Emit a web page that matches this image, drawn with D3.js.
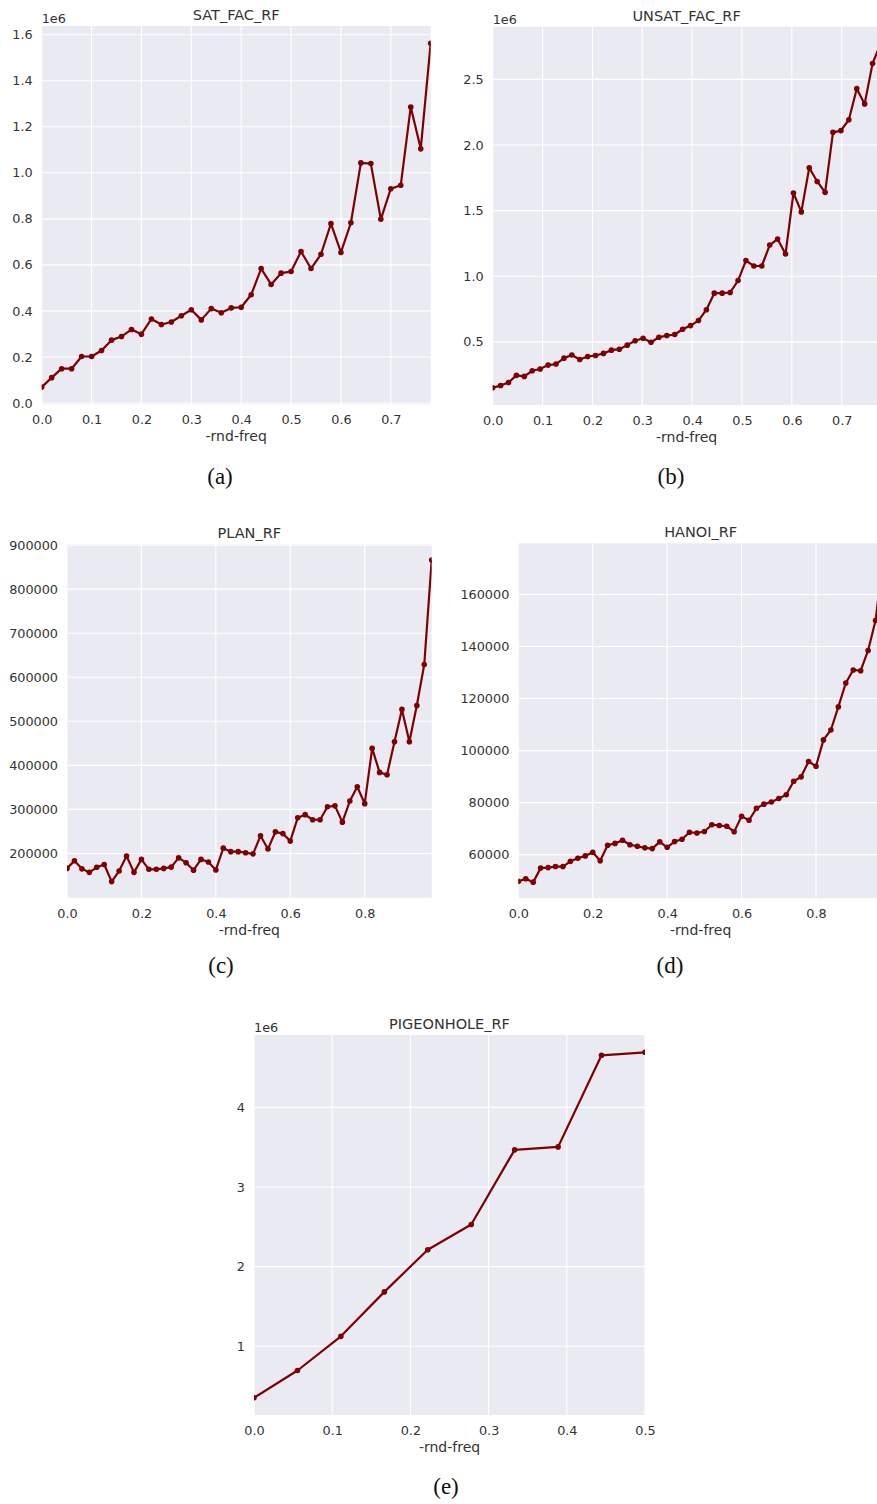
<!DOCTYPE html>
<html>
<head>
<meta charset="utf-8">
<script src="https://cdn.jsdelivr.net/npm/d3@7"></script>
<style>
  body { margin: 0; background: #fff; }
  text { font-family: "DejaVu Sans", sans-serif; fill: #333; }
  .cap { font-family: "Liberation Serif", "DejaVu Serif", serif; fill: #111; }
</style>
</head>
<body>
<div id="chart"></div>
<script>
// values, y in raw units (1e6 panels kept in millions)
const satX = [0, 0.02, 0.04, 0.06, 0.08, 0.1, 0.12, 0.14, 0.16, 0.18, 0.2, 0.22, 0.24, 0.26, 0.28, 0.3, 0.32, 0.34, 0.36, 0.38,
  0.4, 0.42, 0.44, 0.46, 0.48, 0.5, 0.52, 0.54, 0.56, 0.58, 0.6, 0.62, 0.64, 0.66, 0.68, 0.7, 0.72, 0.74, 0.76, 0.78];
const satY = [0.069, 0.11, 0.149, 0.149, 0.202, 0.202, 0.228, 0.273, 0.289, 0.319, 0.299, 0.365, 0.341, 0.352, 0.379, 0.405, 0.361, 0.41, 0.392, 0.413,
  0.416, 0.47, 0.584, 0.515, 0.564, 0.571, 0.658, 0.584, 0.646, 0.779, 0.654, 0.783, 1.043, 1.04, 0.798, 0.931, 0.946, 1.286, 1.104, 1.563];

const unsatX = [0, 0.0159, 0.0317, 0.0476, 0.0635, 0.0794, 0.0952, 0.1111, 0.127, 0.1429, 0.1587, 0.1746, 0.1905, 0.2063, 0.2222, 0.2381, 0.254,
  0.2698, 0.2857, 0.3016, 0.3175, 0.3333, 0.3492, 0.3651, 0.381, 0.3968, 0.4127, 0.4286, 0.4444, 0.4603, 0.4762, 0.4921, 0.5079, 0.5238,
  0.5397, 0.5556, 0.5714, 0.5873, 0.6032, 0.619, 0.6349, 0.6508, 0.6667, 0.6825, 0.6984, 0.7143, 0.7302, 0.746, 0.7619, 0.7778];
const unsatY = [0.15, 0.167, 0.19, 0.245, 0.237, 0.28, 0.293, 0.323, 0.331, 0.376, 0.4, 0.366, 0.389, 0.396, 0.412, 0.437, 0.444,
  0.475, 0.508, 0.528, 0.497, 0.535, 0.548, 0.556, 0.596, 0.624, 0.662, 0.745, 0.871, 0.871, 0.876, 0.967, 1.119, 1.078,
  1.078, 1.237, 1.283, 1.169, 1.634, 1.49, 1.826, 1.722, 1.639, 2.096, 2.109, 2.192, 2.429, 2.313, 2.621, 2.77];

const freq50 = [0, 0.02, 0.04, 0.06, 0.08, 0.1, 0.12, 0.14, 0.16, 0.18, 0.2, 0.22, 0.24, 0.26, 0.28, 0.3, 0.32, 0.34, 0.36, 0.38,
  0.4, 0.42, 0.44, 0.46, 0.48, 0.5, 0.52, 0.54, 0.56, 0.58, 0.6, 0.62, 0.64, 0.66, 0.68, 0.7, 0.72, 0.74, 0.76, 0.78,
  0.8, 0.82, 0.84, 0.86, 0.88, 0.9, 0.92, 0.94, 0.96, 0.98];
const planY = [166000, 183500, 165000, 157000, 168500, 175000, 136000, 160000, 194000, 157000, 186500, 164000, 164000, 166000, 169000,
  190000, 179000, 162000, 186500, 180500, 162500, 212000, 204000, 204000, 201500, 199000, 240000, 210000, 249000, 245000,
  228000, 281000, 288000, 276500, 276500, 306000, 308000, 271000, 319000, 351500, 313000, 438500, 384000, 378500, 453500,
  527000, 453500, 536000, 629000, 866000];
const hanoiY = [49700, 50700, 49400, 54800, 55000, 55400, 55400, 57400, 58600, 59500, 60900, 57600, 63600, 64300, 65500,
  63800, 63200, 62600, 62300, 64900, 62800, 65000, 65900, 68600, 68300, 68900, 71500, 71200, 70900, 68800,
  74700, 73200, 77800, 79400, 80200, 81600, 83000, 88200, 89900, 95800, 94000, 104100, 107900, 116800, 126000,
  131000, 130700, 138500, 150000, 173500];

const pigeonX = [0, 0.0556, 0.1111, 0.1667, 0.2222, 0.2778, 0.3333, 0.3889, 0.4444, 0.5];
const pigeonY = [0.354, 0.696, 1.125, 1.683, 2.213, 2.529, 3.467, 3.504, 4.654, 4.692];

const titles = ["SAT_FAC_RF", "UNSAT_FAC_RF", "PLAN_RF", "HANOI_RF", "PIGEONHOLE_RF"];
const captions = ["(a)", "(b)", "(c)", "(d)", "(e)"];
const xTickSets = [
  [0, 0.1, 0.2, 0.3, 0.4, 0.5, 0.6, 0.7],
  [0, 0.1, 0.2, 0.3, 0.4, 0.5, 0.6, 0.7],
  [0, 0.2, 0.4, 0.6, 0.8],
  [0, 0.2, 0.4, 0.6, 0.8],
  [0, 0.1, 0.2, 0.3, 0.4, 0.5]
];
const yTickSets = [
  [0, 0.2, 0.4, 0.6, 0.8, 1.0, 1.2, 1.4, 1.6],
  [0.5, 1.0, 1.5, 2.0, 2.5],
  [200000, 300000, 400000, 500000, 600000, 700000, 800000, 900000],
  [60000, 80000, 100000, 120000, 140000, 160000],
  [1, 2, 3, 4]
];

const W = 877, H = 1504;
const lineColor = "#7f0000";

const svg = d3.select("#chart").append("svg")
  .attr("width", W).attr("height", H);

// panel boxes [left, top, right, bottom], caption position
const panels = [
  { xs: satX, ys: satY, box: [41.7, 26, 430.7, 404.3], xf: ".1f", yf: ".1f", offset: "1e6", cap: [220, 477] },
  { xs: unsatX, ys: unsatY, box: [492.7, 26.7, 880.5, 405], xf: ".1f", yf: ".1f", offset: "1e6", cap: [671, 477] },
  { xs: freq50, ys: planY, box: [67, 544, 431.7, 897.7], xf: ".1f", yf: "d", offset: null, cap: [221, 966] },
  { xs: freq50, ys: hanoiY, box: [518.3, 543.3, 883, 898.3], xf: ".1f", yf: "d", offset: null, cap: [670, 966] },
  { xs: pigeonX, ys: pigeonY, box: [254, 1035, 645, 1415], xf: ".1f", yf: "d", offset: "1e6", cap: [446, 1487] }
];

panels.forEach((p, i) => {
  const [l, t, r, b] = p.box;
  const x = d3.scaleLinear().domain(d3.extent(p.xs)).range([l, r]);
  const [lo, hi] = d3.extent(p.ys);
  const pad = (hi - lo) * 0.05;
  const y = d3.scaleLinear().domain([lo - pad, hi + pad]).range([b, t]);

  const g = svg.append("g");

  g.append("rect")
    .attr("x", l).attr("y", t)
    .attr("width", r - l).attr("height", b - t)
    .attr("fill", "#eaeaf2");

  // grid
  g.selectAll(".gx").data(xTickSets[i]).join("line")
    .attr("x1", d => x(d)).attr("x2", d => x(d))
    .attr("y1", t).attr("y2", b)
    .attr("stroke", "#fff").attr("stroke-width", 1.1);
  g.selectAll(".gy").data(yTickSets[i]).join("line")
    .attr("class", "gy")
    .attr("x1", l).attr("x2", r)
    .attr("y1", d => y(d)).attr("y2", d => y(d))
    .attr("stroke", "#fff").attr("stroke-width", 1.1);

  // axes via d3.axis, lines removed for the seaborn look
  const xAxis = g.append("g")
    .attr("transform", `translate(0,${b})`)
    .call(d3.axisBottom(x).tickValues(xTickSets[i]).tickFormat(d3.format(p.xf)).tickSize(0).tickPadding(11));
  const yAxis = g.append("g")
    .attr("transform", `translate(${l},0)`)
    .call(d3.axisLeft(y).tickValues(yTickSets[i]).tickFormat(d3.format(p.yf)).tickSize(0).tickPadding(9));
  [xAxis, yAxis].forEach(a => {
    a.select(".domain").remove();
    a.selectAll("text").attr("font-size", 12.8).attr("fill", "#3a3a3a").style("font-family", '"DejaVu Sans", sans-serif');
  });

  // clip to plot area
  const cid = "clip" + i;
  g.append("clipPath").attr("id", cid)
    .append("rect").attr("x", l).attr("y", t).attr("width", r - l).attr("height", b - t);

  const pts = p.xs.map((d, k) => [d, p.ys[k]]);
  const plot = g.append("g").attr("clip-path", `url(#${cid})`);
  plot.append("path")
    .datum(pts)
    .attr("d", d3.line().x(d => x(d[0])).y(d => y(d[1])))
    .attr("fill", "none")
    .attr("stroke", lineColor)
    .attr("stroke-width", 2.2)
    .attr("stroke-linejoin", "round");
  plot.selectAll("circle").data(pts).join("circle")
    .attr("cx", d => x(d[0])).attr("cy", d => y(d[1]))
    .attr("r", 2.8)
    .attr("fill", lineColor);

  g.append("text")
    .attr("x", (l + r) / 2).attr("y", t - 6)
    .attr("text-anchor", "middle")
    .attr("font-size", 14.5)
    .text(titles[i]);

  g.append("text")
    .attr("x", (l + r) / 2).attr("y", b + 37)
    .attr("text-anchor", "middle")
    .attr("font-size", 14)
    .text("-rnd-freq");

  if (p.offset) {
    g.append("text")
      .attr("x", l).attr("y", t - 3)
      .attr("font-size", 12.8)
      .text(p.offset);
  }

  g.append("text")
    .attr("class", "cap")
    .attr("x", p.cap[0]).attr("y", p.cap[1] + 7)
    .attr("text-anchor", "middle")
    .attr("font-size", 23)
    .text(captions[i]);
});
</script>
</body>
</html>
